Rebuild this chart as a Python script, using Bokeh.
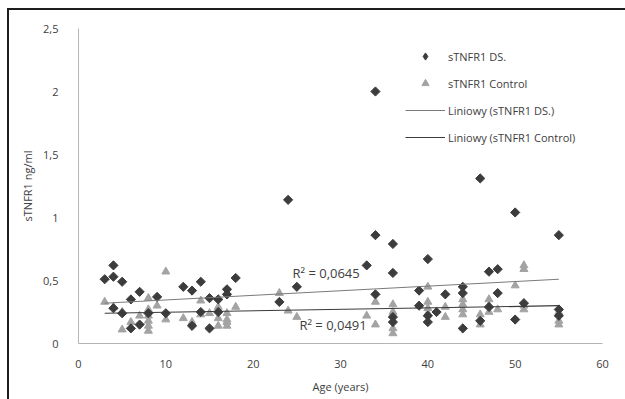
import math
from bokeh.plotting import figure
from bokeh.models import (ColumnDataSource, FixedTicker, Legend, LegendItem, Label,
                          GlobalInlineStyleSheet)
from bokeh.embed import file_html
from bokeh.resources import INLINE

# ---- data ----
ds_age = [3, 4, 4, 4, 5, 5, 6, 6, 7, 7, 8, 9, 10, 12, 13, 13, 14, 14, 15, 15, 16, 16, 17, 17, 18,
          23, 24, 25, 33, 34, 34, 34, 36, 36, 36, 36, 39, 39, 40, 40, 40, 41, 42, 44, 44, 44,
          46, 46, 47, 47, 48, 48, 50, 50, 51, 55, 55, 55]
ds_val = [0.51, 0.62, 0.53, 0.28, 0.49, 0.24, 0.35, 0.12, 0.41, 0.15, 0.24, 0.37, 0.24, 0.45, 0.42, 0.14,
          0.49, 0.25, 0.36, 0.12, 0.35, 0.25, 0.43, 0.39, 0.52,
          0.33, 1.14, 0.45, 0.62, 2.00, 0.86, 0.39, 0.79, 0.56, 0.21, 0.17, 0.42, 0.30, 0.67, 0.22, 0.17,
          0.25, 0.39, 0.45, 0.40, 0.12, 1.31, 0.18, 0.57, 0.29, 0.59, 0.40, 1.04, 0.19, 0.32, 0.86, 0.27, 0.22]

ctrl_age = [3, 4, 5, 5, 6, 7, 8, 8, 8, 8, 8, 8, 9, 10, 10, 12, 13, 14, 14, 15, 16, 16, 16, 17, 17, 17, 17, 18,
            23, 24, 25, 33, 34, 34, 36, 36, 36, 36, 39, 40, 40, 40, 40, 42, 42, 44, 44, 44, 44,
            46, 46, 47, 47, 47, 48, 50, 51, 51, 51, 51, 55, 55, 55]
ctrl_val = [0.33, 0.29, 0.25, 0.11, 0.17, 0.22, 0.36, 0.27, 0.22, 0.18, 0.14, 0.10, 0.30, 0.57, 0.19, 0.20, 0.17,
            0.34, 0.23, 0.24, 0.29, 0.20, 0.14, 0.24, 0.19, 0.17, 0.14, 0.29,
            0.40, 0.26, 0.21, 0.22, 0.33, 0.15, 0.31, 0.25, 0.12, 0.08, 0.30, 0.45, 0.33, 0.28, 0.24, 0.29, 0.21,
            0.35, 0.31, 0.27, 0.23, 0.23, 0.15, 0.35, 0.30, 0.25, 0.27, 0.46, 0.62, 0.59, 0.30, 0.27, 0.25, 0.18, 0.15]

trend_age = [3, 55]
ds_trend = [0.32, 0.51]
ctrl_trend = [0.24, 0.30]

r2_ds = "R\u00b2 = 0,0645"
r2_ctrl = "R\u00b2 = 0,0491"

x_ticks = [0, 10, 20, 30, 40, 50, 60]
y_ticks = [0, 0.5, 1, 1.5, 2, 2.5]
y_tick_labels = ["0", "0,5", "1", "1,5", "2", "2,5"]

FONT = "Open Sans"
TXT = "#404040"
DS_COL = "#3c3c3c"
CTRL_COL = "#a3a3a3"

page_css = GlobalInlineStyleSheet(css="""
html { padding: 8px 0 0 7px !important; margin: 0 !important; box-sizing: border-box !important;
       height: 100% !important; overflow: hidden !important; }
body { margin: 0 !important; padding: 0 !important; box-sizing: border-box !important;
       height: 100% !important; overflow: hidden !important;
       border-left: 2px solid #1e1e1e !important; border-top: 2px solid #1e1e1e !important; }
""")

p = figure(width=616, height=389, output_backend="svg", toolbar_location=None,
           x_range=(0, 60), y_range=(0, 2.5),
           min_border_left=69, min_border_right=23, min_border_top=18, min_border_bottom=56)
p.stylesheets = [page_css]
p.outline_line_color = None
p.xgrid.grid_line_color = None
p.ygrid.grid_line_color = None
p.background_fill_color = "white"
p.border_fill_color = "white"

for ax in (p.xaxis[0], p.yaxis[0]):
    ax.axis_line_color = "#b5b5b5"
    ax.axis_line_width = 1
    ax.major_tick_line_color = None
    ax.minor_tick_line_color = None
    ax.major_tick_out = 0
    ax.major_tick_in = 0
    ax.major_label_text_font = FONT
    ax.major_label_text_font_size = "11px"
    ax.major_label_text_color = TXT
    ax.axis_label_text_font = FONT
    ax.axis_label_text_font_size = "11px"
    ax.axis_label_text_font_style = "normal"
    ax.axis_label_text_color = TXT

p.xaxis.ticker = FixedTicker(ticks=x_ticks)
p.yaxis.ticker = FixedTicker(ticks=y_ticks)
p.yaxis.major_label_overrides = {t: l for t, l in zip(y_ticks, y_tick_labels)}
p.xaxis.axis_label = "Age (years)"
p.yaxis.axis_label = "sTNFR1 ng/ml"
p.xaxis.major_label_standoff = 16
p.xaxis.axis_label_standoff = 8
p.yaxis.major_label_standoff = 20
p.yaxis.axis_label_standoff = 5

ds_src = ColumnDataSource(dict(x=ds_age, y=ds_val))
ctrl_src = ColumnDataSource(dict(x=ctrl_age, y=ctrl_val))
tr_src = ColumnDataSource(dict(x=trend_age, ds=ds_trend, ctrl=ctrl_trend))

r_ctrl = p.scatter("x", "y", source=ctrl_src, marker="triangle", size=8,
                   fill_color=CTRL_COL, line_color=CTRL_COL)
r_ds = p.scatter("x", "y", source=ds_src, marker="square", angle=math.pi / 4, size=6.5,
                 fill_color=DS_COL, line_color=DS_COL)
r_ds_tr = p.line("x", "ds", source=tr_src, line_color="#7a7a7a", line_width=1)
r_ctrl_tr = p.line("x", "ctrl", source=tr_src, line_color="#3a3a3a", line_width=1.2)

# legend-only swatches: one point placed outside the visible range (never drawn in the frame)
leg_src = ColumnDataSource(dict(x=[-100], y=[-100]))
leg_ds = p.scatter("x", "y", source=leg_src, marker="diamond", size=9,
                   fill_color=DS_COL, line_color=DS_COL)
leg_ctrl = p.scatter("x", "y", source=leg_src, marker="triangle", size=7,
                     fill_color=CTRL_COL, line_color=CTRL_COL)

p.add_layout(Label(x=24.5, y=0.556, text=r2_ds, text_font=FONT, text_font_size="13px",
                   text_color=TXT, text_baseline="middle"))
p.add_layout(Label(x=25.3, y=0.143, text=r2_ctrl, text_font=FONT, text_font_size="13px",
                   text_color=TXT, text_baseline="middle"))

legend = Legend(items=[
    LegendItem(label="sTNFR1 DS.", renderers=[leg_ds]),
    LegendItem(label="sTNFR1 Control", renderers=[leg_ctrl]),
    LegendItem(label="Liniowy (sTNFR1 DS.)", renderers=[r_ds_tr]),
    LegendItem(label="Liniowy (sTNFR1 Control)", renderers=[r_ctrl_tr]),
], location=(327, 197))
legend.border_line_color = None
legend.background_fill_alpha = 0
legend.padding = 0
legend.margin = 0
legend.spacing = 9
legend.glyph_width = 40
legend.glyph_height = 18
legend.label_height = 18
legend.label_standoff = 3
legend.label_text_font = FONT
legend.label_text_font_size = "11px"
legend.label_text_color = TXT
p.add_layout(legend)

open("out.html", "w").write(file_html(p, INLINE))
